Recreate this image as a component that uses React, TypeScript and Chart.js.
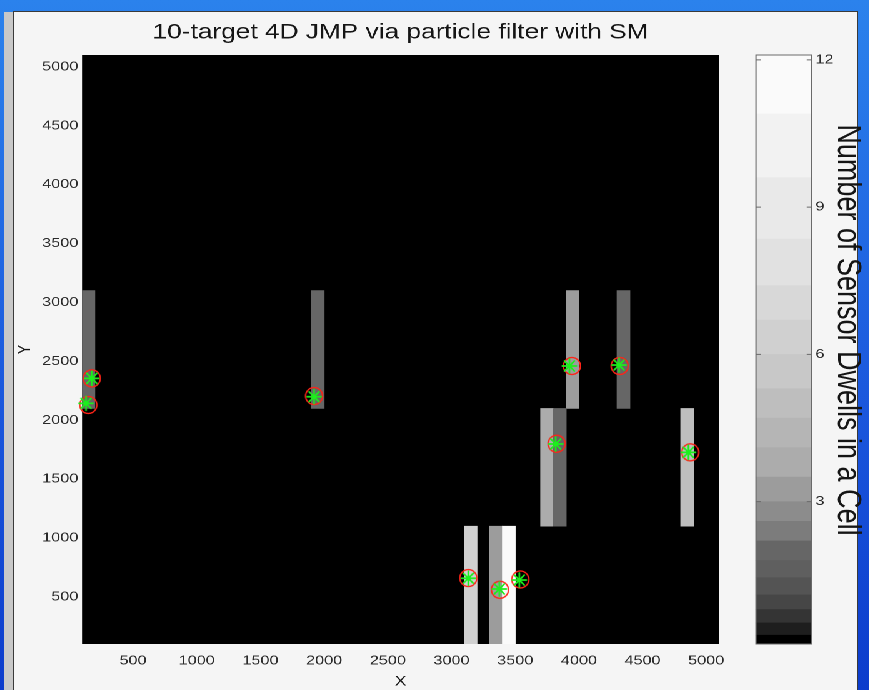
import React, { useEffect, useRef } from 'react';
import { Chart, registerables } from 'chart.js';

Chart.register(...registerables);

// ---------- text ----------
const TITLE = '10-target 4D JMP via particle filter with SM';
const X_LABEL = 'X';
const Y_LABEL = 'Y';
const CB_LABEL = 'Number of Sensor Dwells in a Cell';

// ---------- axes ----------
const xRange = [100, 5100];
const yRange = [100, 5100];
const xTicks = [500, 1000, 1500, 2000, 2500, 3000, 3500, 4000, 4500, 5000];
const yTicks = [500, 1000, 1500, 2000, 2500, 3000, 3500, 4000, 4500, 5000];
const cbRange = [0.1, 12.1];
const cbTicks = [3, 6, 9, 12];

// ---------- sensor cells (dwell counts) ----------
const cellWidth = 100;
const cellLeft = [100, 1900, 3900, 4300, 3700, 3800, 4800, 3100, 3300, 3400];
const cellBottom = [2100, 2100, 2100, 2100, 1100, 1100, 1100, 100, 100, 100];
const cellTop = [3100, 3100, 3100, 3100, 2100, 2100, 2100, 1100, 1100, 1100];
const cellCount = [2, 2, 3, 2, 4, 2, 5, 6, 3, 12];

// ---------- targets ----------
const trueX = [176, 149, 1921, 3945, 4320, 3825, 4875, 3132, 3380, 3540];
const trueY = [2355, 2129, 2205, 2460, 2460, 1800, 1727, 660, 560, 648];
const estX = [176, 131, 1921, 3925, 4315, 3818, 4860, 3132, 3375, 3532];
const estY = [2355, 2143, 2199, 2460, 2468, 1798, 1727, 658, 567, 643];

// ---------- colour bar bands (value range -> grey level) ----------
const bandLow = [0.1, 0.28, 0.53, 0.8, 1.1, 1.45, 1.8, 2.2, 2.6, 3.0, 3.5, 4.1, 4.7, 5.3, 6.0, 6.7, 7.4, 8.35, 9.6, 10.9];
const bandHigh = [0.28, 0.53, 0.8, 1.1, 1.45, 1.8, 2.2, 2.6, 3.0, 3.5, 4.1, 4.7, 5.3, 6.0, 6.7, 7.4, 8.35, 9.6, 10.9, 12.1];
const bandGray = [0, 30, 52, 70, 84, 95, 102, 124, 140, 156, 172, 181, 190, 200, 208, 216, 225, 233, 242, 250];

const S = 1.25; // horizontal stretch of the picture
const FONT = "'Liberation Sans', Arial, Helvetica, sans-serif";

const grayCss = (g: number) => `rgb(${g},${g},${g})`;
const colorForCount = (v: number) => {
  for (let i = 0; i < bandLow.length; i++) {
    if (v >= bandLow[i] && v < bandHigh[i]) return grayCss(bandGray[i]);
  }
  return grayCss(bandGray[bandGray.length - 1]);
};

// marker image drawn pre-squeezed so that it looks round after the horizontal stretch
function makeMarker(kind: 'circle' | 'star', r: number, color: string, lw: number): Promise<HTMLImageElement> {
  const k = 4;
  const w = Math.ceil((2 * (r + lw)) / S) + 2;
  const h = Math.ceil(2 * (r + lw)) + 2;
  const c = document.createElement('canvas');
  c.width = w * k;
  c.height = h * k;
  const ctx = c.getContext('2d') as CanvasRenderingContext2D;
  ctx.scale(k, k);
  ctx.translate(w / 2, h / 2);
  ctx.scale(1 / S, 1);
  ctx.strokeStyle = color;
  ctx.lineWidth = lw;
  ctx.lineCap = 'round';
  ctx.beginPath();
  if (kind === 'circle') {
    ctx.arc(0, 0, r, 0, Math.PI * 2);
  } else {
    for (let a = 0; a < 4; a++) {
      const ang = (a * Math.PI) / 4;
      ctx.moveTo(-Math.cos(ang) * r, -Math.sin(ang) * r);
      ctx.lineTo(Math.cos(ang) * r, Math.sin(ang) * r);
    }
  }
  ctx.stroke();
  const img = new Image();
  img.width = w;
  img.height = h;
  img.src = c.toDataURL();
  return img.decode().then(() => img);
}

const plotBg = {
  id: 'plotBg',
  beforeDraw(chart: any) {
    const { ctx, chartArea: a } = chart;
    ctx.save();
    ctx.fillStyle = '#000';
    ctx.fillRect(a.left, a.top, a.width, a.height);
    ctx.restore();
  },
};

const cbFrame = {
  id: 'cbFrame',
  afterDraw(chart: any) {
    const { ctx, chartArea: a } = chart;
    const ys = chart.scales.y;
    const bottom = ys.getPixelForValue(cbRange[0]);
    ctx.save();
    ctx.strokeStyle = '#6a6a6a';
    ctx.lineWidth = 1;
    ctx.strokeRect(a.left, a.top, a.width, bottom - a.top);
    cbTicks.forEach((t) => {
      const p = ys.getPixelForValue(t);
      ctx.beginPath();
      ctx.moveTo(a.left, p);
      ctx.lineTo(a.left + 4, p);
      ctx.moveTo(a.right, p);
      ctx.lineTo(a.right - 4, p);
      ctx.stroke();
    });
    ctx.restore();
  },
};

export default function App() {
  const mainRef = useRef<HTMLCanvasElement>(null);
  const cbRef = useRef<HTMLCanvasElement>(null);

  useEffect(() => {
    document.body.style.margin = '0';
    Chart.defaults.font.family = FONT;
    let cancelled = false;
    const charts: Chart[] = [];

    Promise.all([
      makeMarker('circle', 8.5, '#ff2418', 1.4),
      makeMarker('star', 7, '#1cf01c', 1.7),
    ]).then(([circleImg, starImg]) => {
      if (cancelled || !mainRef.current || !cbRef.current) return;

      const mainW = 592;
      const plotLeft = 82 / S;
      const plotRight = 719 / S;
      const padLeft = 10;

      charts.push(
        new Chart(mainRef.current, {
          type: 'bar',
          data: {
            datasets: [
              {
                type: 'bar',
                data: cellLeft.map((x0, i) => ({ x: x0 + cellWidth / 2, y: [cellBottom[i], cellTop[i]] })) as any,
                backgroundColor: cellCount.map(colorForCount),
                borderWidth: 0,
                categoryPercentage: 1,
                barPercentage: 1,
                order: 3,
              } as any,
              {
                type: 'scatter',
                data: trueX.map((x, i) => ({ x, y: trueY[i] })),
                pointStyle: circleImg,
                pointRadius: 9,
                clip: false,
                order: 2,
              } as any,
              {
                type: 'scatter',
                data: estX.map((x, i) => ({ x, y: estY[i] })),
                pointStyle: starImg,
                pointRadius: 8,
                clip: false,
                order: 1,
              } as any,
            ],
          },
          options: {
            responsive: false,
            animation: false,
            devicePixelRatio: 2,
            layout: { padding: { left: padLeft, right: mainW - plotRight, top: 0, bottom: 0 } },
            plugins: {
              legend: { display: false },
              tooltip: { enabled: false },
              title: {
                display: true,
                text: TITLE,
                fullSize: false,
                color: '#151515',
                font: { family: FONT, size: 21, weight: 'normal' as any },
                padding: { top: 20, bottom: 9.8 },
              },
            },
            scales: {
              x: {
                type: 'linear',
                min: xRange[0],
                max: xRange[1],
                offset: false,
                grid: { display: false, drawTicks: false },
                border: { display: false },
                afterBuildTicks: (s: any) => {
                  s.ticks = xTicks.map((v) => ({ value: v }));
                },
                afterFit: (s: any) => {
                  s.height = 46;
                },
                ticks: {
                  color: '#2a2a2a',
                  font: { family: FONT, size: 13 },
                  padding: 9,
                  maxRotation: 0,
                  autoSkip: false,
                  callback: (v: any) => String(v),
                },
                title: {
                  display: true,
                  text: X_LABEL,
                  color: '#151515',
                  font: { family: FONT, size: 14 },
                  padding: { top: 0, bottom: 0 },
                },
              },
              y: {
                type: 'linear',
                min: yRange[0],
                max: yRange[1],
                grid: { display: false, drawTicks: false },
                border: { display: false },
                afterBuildTicks: (s: any) => {
                  s.ticks = yTicks.map((v) => ({ value: v }));
                },
                afterFit: (s: any) => {
                  s.width = plotLeft - padLeft;
                },
                ticks: {
                  color: '#2a2a2a',
                  font: { family: FONT, size: 13 },
                  padding: 3,
                  autoSkip: false,
                  callback: (v: any) => String(v),
                },
                title: {
                  display: true,
                  text: Y_LABEL,
                  color: '#151515',
                  font: { family: FONT, size: 15 },
                  padding: { top: 1, bottom: 0 },
                },
              },
            },
          } as any,
          plugins: [plotBg],
        })
      );

      const cbW = 869 / S - mainW;
      const cbLeft = 756 / S - mainW;
      const cbRight = 812 / S - mainW;
      // axis area ends higher so the axis title sits where the original one does;
      // the bands still run to the bottom value of the colour scale
      const axisBottomPx = 605;
      const pxPerUnit = (644 - 55) / (cbRange[1] - cbRange[0]);
      const axisMin = cbRange[1] - (axisBottomPx - 55) / pxPerUnit;

      charts.push(
        new Chart(cbRef.current, {
          type: 'bar',
          data: {
            labels: [''],
            datasets: bandLow.map((lo, i) => ({
              data: [[lo, bandHigh[i]]] as any,
              backgroundColor: grayCss(bandGray[i]),
              borderWidth: 0,
              grouped: false,
              categoryPercentage: 1,
              barPercentage: 1,
              clip: false,
            })) as any,
          },
          options: {
            responsive: false,
            animation: false,
            devicePixelRatio: 2,
            layout: { padding: { left: cbLeft, right: 0, top: 55, bottom: 690 - axisBottomPx } },
            plugins: { legend: { display: false }, tooltip: { enabled: false } },
            scales: {
              x: { display: false },
              y: {
                position: 'right',
                min: axisMin,
                max: cbRange[1],
                grid: { display: false, drawTicks: false },
                border: { display: false },
                afterBuildTicks: (s: any) => {
                  s.ticks = cbTicks.map((v) => ({ value: v }));
                },
                afterFit: (s: any) => {
                  s.width = cbW - cbRight;
                },
                ticks: {
                  color: '#2a2a2a',
                  font: { family: FONT, size: 13 },
                  padding: 3,
                },
                title: {
                  display: true,
                  text: CB_LABEL,
                  color: '#151515',
                  font: { family: FONT, size: 27 },
                  padding: { top: 1, bottom: 0 },
                },
              },
            },
          } as any,
          plugins: [cbFrame],
        })
      );
    });

    return () => {
      cancelled = true;
      charts.forEach((c) => c.destroy());
    };
  }, []);

  return (
    <div
      style={{
        position: 'fixed',
        left: 0,
        top: 0,
        width: 869,
        height: 690,
        overflow: 'hidden',
        background: 'linear-gradient(to bottom, #2b82ec 0%, #1a56dc 60%, #0c3ccc 100%)',
      }}
    >
      <div style={{ position: 'absolute', left: 4, top: 12, width: 10, height: 690, background: '#c8c8c8' }} />
      <div
        style={{
          position: 'absolute',
          left: 13,
          top: 11,
          width: 845,
          height: 700,
          background: '#f5f5f5',
          border: '1.5px solid #3a3a3a',
          boxSizing: 'border-box',
        }}
      />
      <div
        style={{
          position: 'absolute',
          left: 0,
          top: 0,
          width: 869 / S,
          height: 690,
          transform: `scaleX(${S})`,
          transformOrigin: '0 0',
        }}
      >
        <canvas ref={mainRef} width={592} height={690} style={{ position: 'absolute', left: 0, top: 0 }} />
        <canvas
          ref={cbRef}
          width={Math.round(869 / S - 592)}
          height={690}
          style={{ position: 'absolute', left: 592, top: 0 }}
        />
      </div>
    </div>
  );
}
